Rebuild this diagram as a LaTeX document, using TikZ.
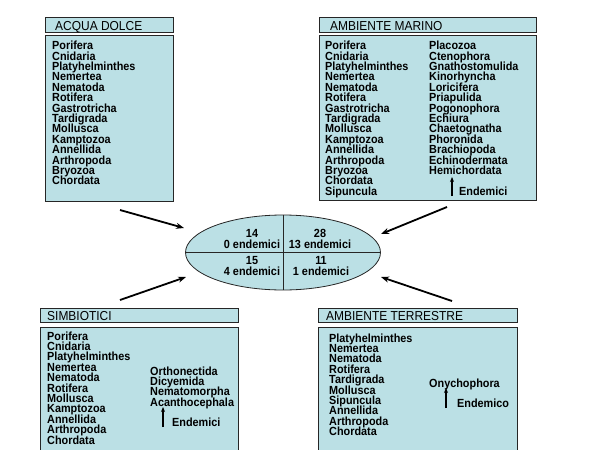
\documentclass[tikz,border=0pt]{standalone}
\usepackage{fontspec}
\setmainfont{Liberation Sans}
\newfontfamily\tallsans[FakeStretch=0.92]{Liberation Sans}
\usetikzlibrary{shapes.geometric,arrows.meta}
\definecolor{acqua}{RGB}{187,224,229}
\begin{document}
\begin{tikzpicture}[x=1pt,y=-1pt,
    box/.style={fill=acqua,draw=black!85,line width=0.8pt},
    head/.style={anchor=base west,inner sep=0,font=\tallsans\fontsize{13}{12}\selectfont},
    taxon/.style={anchor=base west,inner sep=0,font=\tallsans\fontsize{11.8}{10.4}\selectfont\bfseries},
    count/.style={inner sep=0,align=center,font=\tallsans\fontsize{11.8}{10.4}\selectfont\bfseries},
    arr/.style={line width=1.8pt,-{Stealth[length=8pt,width=6pt]}},
    up/.style={line width=1.3pt,-{Stealth[length=5pt,width=4pt]}}]
    \useasboundingbox (0,0) rectangle (600,450);
    \def\dy{10.4}
    % acqua dolce
    \draw[box] (45,17) rectangle (173,32);
    \draw[box] (45,35) rectangle (173,201);
    \node[head] (adhead) at (55,30) {ACQUA DOLCE};
    \foreach \t [count=\i from 0] in {Porifera,Cnidaria,Platyhelminthes,Nemertea,Nematoda,Rotifera,Gastrotricha,Tardigrada,Mollusca,Kamptozoa,Annellida,Arthropoda,Bryozoa,Chordata}
        \node[taxon] (ad-\i) at (52,{49.6+\i*\dy}) {\t};
    % ambiente marino
    \draw[box] (319,17) rectangle (536,32);
    \draw[box] (319,35) rectangle (536,200);
    \node[head] (amhead) at (330,30) {AMBIENTE MARINO};
    \foreach \t [count=\i from 0] in {Porifera,Cnidaria,Platyhelminthes,Nemertea,Nematoda,Rotifera,Gastrotricha,Tardigrada,Mollusca,Kamptozoa,Annellida,Arthropoda,Bryozoa,Chordata,Sipuncula}
        \node[taxon] (am-\i) at (325,{49.6+\i*\dy}) {\t};
    \foreach \t [count=\i from 0] in {Placozoa,Ctenophora,Gnathostomulida,Kinorhyncha,Loricifera,Priapulida,Pogonophora,Echiura,Chaetognatha,Phoronida,Brachiopoda,Echinodermata,Hemichordata}
        \node[taxon] (amend-\i) at (429,{49.6+\i*\dy}) {\t};
    \node[taxon] (amlab) at (459,195) {Endemici};
    \coordinate (amtail) at (452,196);
    \coordinate (amtip) at (452,177);
    \draw[up] (amtail) -- (amtip);
    % simbiotici
    \draw[box] (40,308) rectangle (238,322);
    \draw[box] (40,327) rectangle (238,455);
    \node[head] (sihead) at (47,320) {SIMBIOTICI};
    \foreach \t [count=\i from 0] in {Porifera,Cnidaria,Platyhelminthes,Nemertea,Nematoda,Rotifera,Mollusca,Kamptozoa,Annellida,Arthropoda,Chordata}
        \node[taxon] (si-\i) at (47,{340+\i*\dy}) {\t};
    \foreach \t [count=\i from 0] in {Orthonectida,Dicyemida,Nematomorpha,Acanthocephala}
        \node[taxon] (siend-\i) at (150,{375+\i*\dy}) {\t};
    \node[taxon] (silab) at (172,426) {Endemici};
    \coordinate (sitail) at (163,427);
    \coordinate (sitip) at (163,407);
    \draw[up] (sitail) -- (sitip);
    % ambiente terrestre
    \draw[box] (318,308) rectangle (517,322);
    \draw[box] (318,327) rectangle (517,455);
    \node[head] (tehead) at (326,320.5) {AMBIENTE TERRESTRE};
    \foreach \t [count=\i from 0] in {Platyhelminthes,Nemertea,Nematoda,Rotifera,Tardigrada,Mollusca,Sipuncula,Annellida,Arthropoda,Chordata}
        \node[taxon] (te-\i) at (329,{342+\i*\dy}) {\t};
    \node[taxon] (teend) at (429,387) {Onychophora};
    \node[taxon] (telab) at (457,407) {Endemico};
    \coordinate (tetail) at (446,408);
    \coordinate (tetip) at (446,388);
    \draw[up] (tetail) -- (tetip);
    % ellisse centrale
    \node[ellipse,box,minimum width=195,minimum height=75,inner sep=0] (cross) at (283,252.5) {};
    \draw[draw=black!85,line width=0.8pt] (cross.west) -- (cross.east);
    \draw[draw=black!85,line width=0.8pt] (cross.north) -- (cross.south);
    \node[count] (adnum) at (252,239) {14\\0 endemici};
    \node[count] (amnum) at (320,239) {28\\13 endemici};
    \node[count] (sinum) at (252,266) {15\\4 endemici};
    \node[count] (tenum) at (321,266) {11\\1 endemici};
    % frecce
    \coordinate (a1) at (120,210); \coordinate (b1) at (184,228);
    \coordinate (a2) at (447,207); \coordinate (b2) at (381,234);
    \coordinate (a3) at (120,300); \coordinate (b3) at (186,277);
    \coordinate (a4) at (452,301); \coordinate (b4) at (381,277);
    \draw[arr] (a1) -- (b1);
    \draw[arr] (a2) -- (b2);
    \draw[arr] (a3) -- (b3);
    \draw[arr] (a4) -- (b4);
\end{tikzpicture}
\end{document}
